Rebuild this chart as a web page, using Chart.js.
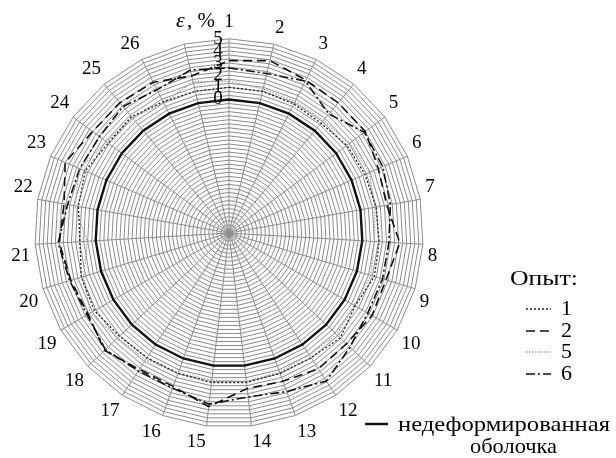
<!DOCTYPE html>
<html>
<head>
<meta charset="utf-8">
<script src="https://cdn.jsdelivr.net/npm/chart.js@4.4.1/dist/chart.umd.min.js"></script>
<style>
  html, body { margin: 0; padding: 0; background: #fff; }
</style>
</head>
<body>
<canvas id="chart" width="616" height="458"></canvas>
<script>
// 27 spokes, the last one has no number
const spokes = ["1", "2", "3", "4", "5", "6", "7", "8", "9", "10", "11", "12", "13",
  "14", "15", "16", "17", "18", "19", "20", "21", "22", "23", "24", "25", "26", ""];

// strain, %
const shell = [0, 0, 0, 0, 0, 0, 0, 0, 0, 0, 0, 0, 0, 0, 0, 0, 0, 0, 0, 0, 0, 0, 0, 0, 0, 0, 0];
const exp1 = [1.0, 1.0, 0.9, 0.8, 1.1, 1.2, 1.3, 1.4, 1.5, 1.0, 1.6, 1.3, 1.3, 1.4,
  1.4, 1.3, 1.3, 1.4, 1.8, 1.7, 1.3, 1.6, 1.9, 1.4, 1.5, 1.1, 1.0];
const exp2 = [3.2, 3.6, 3.1, 3.0, 3.0, 2.4, 2.2, 3.1, 2.5, 2.6, 2.3, 2.4, 2.0, 1.9,
  3.4, 2.45, 2.45, 3.1, 2.4, 2.6, 3.0, 2.8, 3.7, 3.0, 3.0, 2.9, 2.3];
const exp5 = [1.5, 1.2, 1.1, 1.1, 1.4, 1.6, 1.2, 1.0, 1.2, 0.9, 1.2, 1.0, 1.2, 1.3,
  1.2, 1.3, 1.5, 1.6, 2.2, 1.5, 0.7, 1.9, 2.4, 1.6, 1.4, 1.0, 1.8];
const exp6 = [2.6, 2.5, 3.0, 1.8, 2.9, 2.8, 2.5, 2.2, 2.2, 2.2, 2.7, 3.6, 2.9, 2.6,
  3.2, 2.6, 2.6, 3.0, 2.5, 2.7, 3.1, 2.5, 2.4, 2.3, 2.6, 2.2, 2.8];

const radialTicks = [0, 1, 2, 3, 4, 5];
const legendTitle = "Опыт:";
const shellName = ["недеформированная", "оболочка"];

const serif = "'Liberation Serif', 'Times New Roman', serif";
const ink = "#111";
const grid = "#8c8c8c";

// squeeze/stretch a text to the width it takes in the figure
function wideText(c, text, x, y, w) {
  const m = c.measureText(text).width;
  c.save();
  c.translate(x, y);
  c.scale(w / m, 1);
  c.fillText(text, 0, 0);
  c.restore();
}

// tick numbers, axis title and the legend on the right
const extras = {
  id: "extras",
  afterDraw(chart) {
    const c = chart.ctx;
    const r = chart.scales.r;
    c.save();
    c.fillStyle = "#000";
    c.textBaseline = "middle";
    c.textAlign = "center";
    c.font = "19px " + serif;
    radialTicks.forEach((v) => {
      const d = r.getDistanceFromCenterForValue(v);
      c.fillText(String(v), r.xCenter - 11, r.yCenter - d);
    });

    // ε, %
    c.textAlign = "left";
    c.font = "italic 22px " + serif;
    c.fillText("ε", 176, 21);
    c.font = "21px " + serif;
    c.fillText(", %", 187, 21);

    // legend
    c.font = "22px " + serif;
    wideText(c, legendTitle, 510, 279, 68);
    const rows = [
      { ds: 1, y: 309 },
      { ds: 4, y: 331 },
      { ds: 2, y: 352 },
      { ds: 3, y: 374 },
    ];
    rows.forEach((row) => {
      const ds = chart.data.datasets[row.ds];
      c.beginPath();
      c.setLineDash(ds.borderDash || []);
      c.strokeStyle = ds.borderColor;
      c.lineWidth = ds.borderWidth;
      c.moveTo(526, row.y);
      c.lineTo(551, row.y);
      c.stroke();
      c.setLineDash([]);
      c.fillText(ds.label, 561, row.y);
    });

    const sh = chart.data.datasets[0];
    c.beginPath();
    c.strokeStyle = sh.borderColor;
    c.lineWidth = sh.borderWidth;
    c.moveTo(365, 424);
    c.lineTo(388, 424);
    c.stroke();
    wideText(c, shellName[0], 398, 425, 212);
    wideText(c, shellName[1], 470, 447, 87);
    c.restore();
  },
};

new Chart(document.getElementById("chart"), {
  type: "radar",
  data: {
    labels: spokes,
    datasets: [
      { label: "shell", data: shell, borderColor: ink, borderWidth: 2.4 },
      { label: "1", data: exp1, borderColor: "#222", borderWidth: 1.3, borderDash: [2, 2] },
      { label: "5", data: exp5, borderColor: "#a0a0a0", borderWidth: 1.3, borderDash: [1.5, 1.5] },
      { label: "6", data: exp6, borderColor: ink, borderWidth: 1.6, borderDash: [9, 3, 2, 3] },
      { label: "2", data: exp2, borderColor: ink, borderWidth: 1.6, borderDash: [9, 5] },
    ],
  },
  options: {
    responsive: false,
    animation: false,
    layout: { padding: { left: 3, right: 169, top: 10, bottom: 3 } },
    elements: {
      point: { radius: 0, hoverRadius: 0 },
      line: { tension: 0, fill: false },
    },
    plugins: { legend: { display: false }, tooltip: { enabled: false } },
    scales: {
      r: {
        min: -11,
        max: 5,
        ticks: { stepSize: 1 / 3, display: false },
        grid: { color: grid, lineWidth: 1 },
        angleLines: { color: grid, lineWidth: 1 },
        pointLabels: {
          color: "#000",
          padding: 5,
          font: { family: serif, size: 19 },
        },
      },
    },
  },
  plugins: [extras],
});
</script>
</body>
</html>
